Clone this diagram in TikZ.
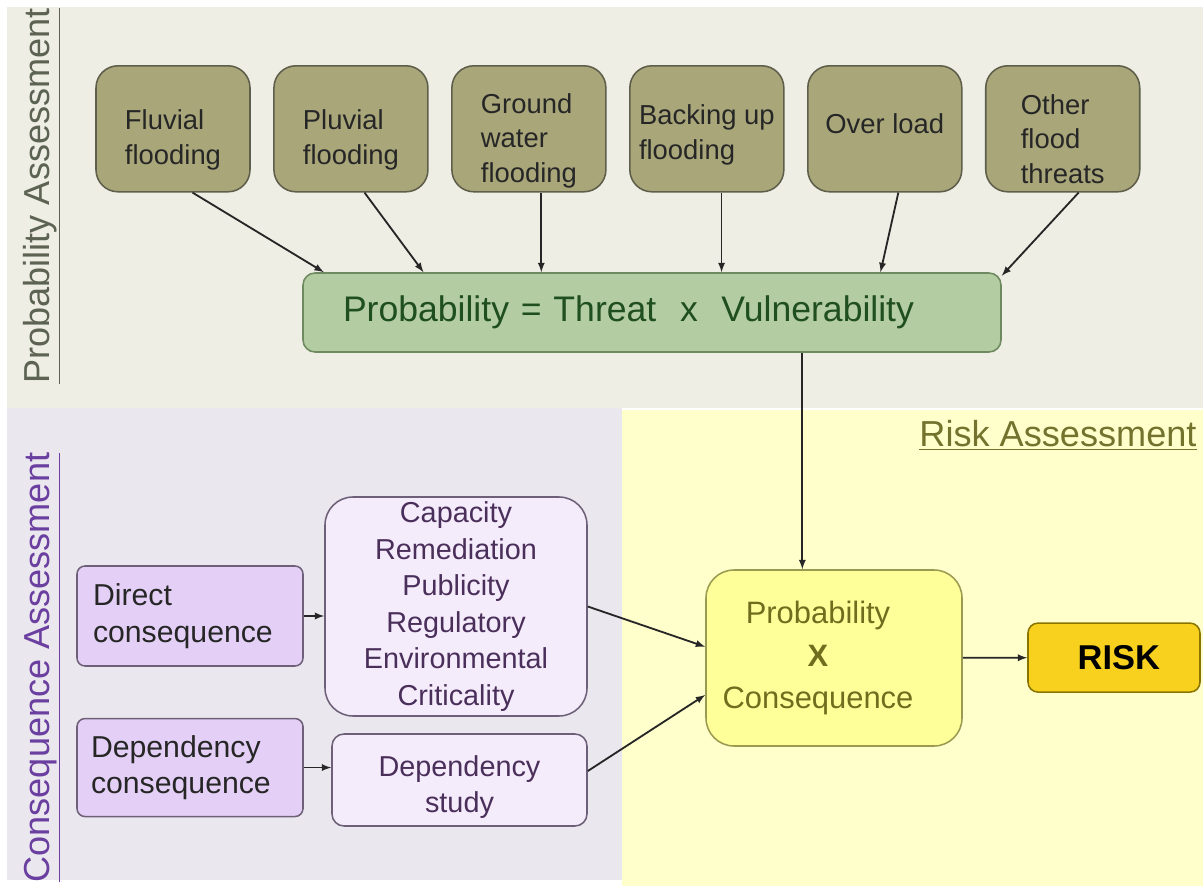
\documentclass[tikz,border=0pt]{standalone}
\usepackage{fontspec}
\setmainfont{Liberation Sans}
\usetikzlibrary{
  positioning,
  arrows
}

\definecolor{probBack}{HTML}{EEEEE4}
\definecolor{consBack}{HTML}{EBE7EE}
\definecolor{riskBack}{HTML}{FFFFCC}
\definecolor{threatFill}{HTML}{A9A77A}
\definecolor{threatLine}{HTML}{5E5E4A}
\definecolor{probFill}{HTML}{B4CCA2}
\definecolor{probLine}{HTML}{6E8A60}
\definecolor{probText}{HTML}{1F4F1F}
\definecolor{pxcFill}{HTML}{FFFF99}
\definecolor{pxcLine}{HTML}{9A9A50}
\definecolor{pxcText}{HTML}{6E6E1E}
\definecolor{riskFill}{HTML}{F7D11E}
\definecolor{riskLine}{HTML}{8A7400}
\definecolor{consFill}{HTML}{E4D0F6}
\definecolor{consLine}{HTML}{6E6078}
\definecolor{listFill}{HTML}{F4ECFB}
\definecolor{listText}{HTML}{4B2F5B}
\definecolor{probLabel}{HTML}{5C6352}
\definecolor{consLabel}{HTML}{6A3FA0}
\definecolor{riskLabel}{HTML}{73732E}

\begin{document}
\begin{tikzpicture}[
    auto,node distance=0.56cm,
    threatNode/.style={draw=threatLine,fill=threatFill,line width=1.1pt,rounded corners=0.55cm,
      minimum width=3.85cm,minimum height=3.15cm},
    threatText/.style={align=left,text=black!85,font=\fontsize{19.5}{24.5}\selectfont},
    consNode/.style={draw=consLine,fill=consFill,line width=1.1pt,rounded corners=0.2cm,
      minimum width=5.65cm,align=left,text=black!85,font=\fontsize{21.5}{26}\selectfont},
    listNode/.style={draw=consLine,fill=listFill,line width=1.1pt,align=center,text=listText,
      font=\fontsize{20.5}{26}\selectfont},
    areaLabel/.style={font=\fontsize{25.7}{30}\selectfont},
    link/.style={-latex,line width=1.3pt,black!85}
  ]
    \useasboundingbox (0,0) rectangle (30.075,-22.15);

    % areas
    \fill[probBack] (0.175,-0.175) rectangle (30.075,-10.2);
    \fill[consBack] (0.175,-10.2) rectangle (15.55,-22);
    \fill[riskBack] (15.55,-10.25) rectangle (30.075,-22.15);

    \node[areaLabel,rotate=90,text=probLabel] (probTitle) at (1.05,-4.9) {\underline{Probability Assessment}};
    \node[areaLabel,rotate=90,text=consLabel] (consTitle) at (1.05,-16.69) {\underline{Consequence Assessment}};
    \node[areaLabel,text=riskLabel] (riskTitle) at (26.45,-10.875) {\underline{Risk Assessment}};

    % threats
    \node[threatNode,label={[threatText,yshift=-0.28cm]center:Fluvial\\flooding}] (fluvial) at (4.325,-3.22) {};
    \node[threatNode,right=of fluvial,label={[threatText,yshift=-0.28cm]center:Pluvial\\flooding}] (pluvial) {};
    \node[threatNode,right=of pluvial,label={[threatText,yshift=-0.3cm]center:Ground\\water\\flooding}] (ground) {};
    \node[threatNode,right=of ground,label={[threatText,yshift=-0.15cm]center:Backing up\\flooding}] (backing) {};
    \node[threatNode,right=of backing,label={[threatText,yshift=0.12cm]center:Over load}] (overload) {};
    \node[threatNode,right=of overload,label={[threatText,yshift=-0.25cm]center:Other\\flood\\threats}] (other) {};

    \node[draw=probLine,fill=probFill,line width=1.1pt,rounded corners=0.3cm,
      text width=15.45cm,inner xsep=1cm,minimum height=1.975cm,align=left,text=probText,
      font=\fontsize{25.3}{30}\selectfont] (prob) at (16.3,-7.8125)
      {Probability = Threat \ x \ Vulnerability};

    \draw[link] (fluvial.-73) -- (prob.173.4);
    \draw[link] (pluvial.-78) -- (prob.170.1);
    \draw[link] (ground.-79) -- (ground.-79 |- prob.north);
    \draw[link] (backing.-77.5) -- (backing.-77.5 |- prob.north);
    \draw[link] (overload.-78) -- (prob.10.4);
    \draw[link] (other.-76) -- (prob.6.6);

    % consequences
    \node[consNode,minimum height=2.5cm,text width=4.85cm] (direct) at (4.75,-15.4) {Direct\\consequence};
    \node[consNode,minimum height=2.45cm,text width=4.95cm,below=1.275cm of direct] (dependency) {Dependency\\consequence};
    \node[listNode,rounded corners=0.7cm,minimum width=6.55cm,minimum height=5.425cm] (impacts) at (11.4,-15.1625)
      {Capacity\\Remediation\\Publicity\\Regulatory\\Environmental\\Criticality};
    \node[listNode,rounded corners=0.3cm,minimum width=6.375cm,minimum height=2.3cm,
      label={[listNode,draw=none,fill=none,yshift=-0.18cm]center:Dependency\\study}] (study) at (11.4875,-19.5) {};

    \draw[link] (direct) -- (direct -| impacts.west);
    \draw[link] (dependency) -- (dependency -| study.west);

    % risk
    \node[draw=pxcLine,fill=pxcFill,line width=1.1pt,rounded corners=0.7cm,minimum width=6.4cm,
      minimum height=4.4cm,label={[align=center,text=pxcText,font=\fontsize{22}{30}\selectfont,xshift=-0.4cm]
      center:Probability\\[1pt]\textbf{X}\\Consequence}] (pxc) at (20.85,-16.45) {};
    \node[draw=riskLine,fill=riskFill,line width=1.1pt,rounded corners=0.25cm,minimum width=4.3cm,
      minimum height=1.725cm,font=\fontsize{24.5}{30}\selectfont\bfseries] (risk) at (27.85,-16.44) {\ RISK};

    \draw[link] (prob.-15.4) -- (prob.-15.4 |- pxc.north);
    \draw[link] (impacts.east) -- (pxc.175.5);
    \draw[link] (study.4.5) -- (pxc.-164.3);
    \draw[link] (pxc) -- (risk);
  \end{tikzpicture}
\end{document}
